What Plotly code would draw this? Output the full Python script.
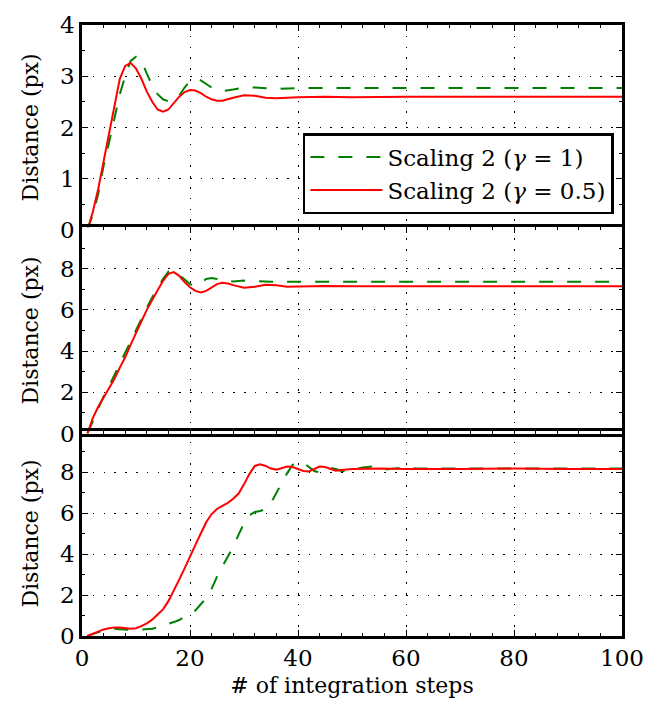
import plotly.graph_objects as go
from plotly.subplots import make_subplots

# ---------------- data ----------------
# Panel 1
p1_red_x = [1, 2, 3, 4, 5, 6, 7, 8, 9, 10, 11, 12, 13, 14, 15, 16, 17, 18, 19, 20, 21, 22, 23, 24, 25, 26, 28, 30, 32, 34, 36, 38, 40, 45, 50, 60, 70, 80, 90, 100]
p1_red_y = [0, 0.35, 0.8, 1.35, 1.85, 2.45, 2.95, 3.2, 3.26, 3.15, 2.95, 2.7, 2.5, 2.35, 2.31, 2.35, 2.47, 2.6, 2.69, 2.73, 2.72, 2.67, 2.6, 2.55, 2.52, 2.52, 2.58, 2.63, 2.62, 2.58, 2.57, 2.58, 2.59, 2.6, 2.59, 2.6, 2.6, 2.6, 2.6, 2.6]
p1_grn_x = [1, 2, 3, 4, 5, 6, 7, 8, 9, 10, 11, 12, 13, 14, 15, 16, 17, 18, 19, 20, 21, 22, 23, 24, 25, 26, 28, 30, 32, 34, 36, 40, 50, 60, 70, 80, 90, 100]
p1_grn_y = [0, 0.3, 0.7, 1.25, 1.7, 2.2, 2.65, 3.0, 3.3, 3.38, 3.3, 3.05, 2.82, 2.65, 2.55, 2.51, 2.52, 2.62, 2.78, 2.9, 2.95, 2.92, 2.85, 2.78, 2.73, 2.71, 2.74, 2.78, 2.78, 2.76, 2.75, 2.77, 2.77, 2.77, 2.77, 2.77, 2.77, 2.77]

# Panel 2
p2_red_x = [1, 2, 3, 4, 5, 6, 7, 8, 9, 10, 11, 12, 13, 14, 15, 16, 17, 18, 19, 20, 21, 22, 23, 24, 25, 26, 27, 28, 30, 32, 34, 36, 38, 40, 45, 50, 60, 70, 80, 90, 100]
p2_red_y = [0, 0.75, 1.3, 1.75, 2.15, 2.65, 3.2, 3.7, 4.3, 4.9, 5.45, 6.0, 6.5, 6.95, 7.4, 7.75, 7.83, 7.65, 7.35, 7.1, 6.92, 6.85, 6.92, 7.1, 7.25, 7.31, 7.28, 7.2, 7.07, 7.12, 7.22, 7.2, 7.12, 7.13, 7.16, 7.15, 7.15, 7.15, 7.15, 7.15, 7.15]
p2_grn_x = [1, 2, 3, 4, 5, 6, 7, 8, 9, 10, 11, 12, 13, 14, 15, 16, 17, 18, 19, 20, 21, 22, 23, 24, 25, 26, 28, 30, 32, 35, 40, 50, 60, 70, 80, 90, 100]
p2_grn_y = [0, 0.6, 1.25, 1.8, 2.3, 2.85, 3.4, 3.95, 4.5, 5.05, 5.6, 6.1, 6.6, 7.05, 7.5, 7.85, 7.9, 7.7, 7.45, 7.25, 7.15, 7.3, 7.5, 7.55, 7.5, 7.42, 7.38, 7.42, 7.4, 7.36, 7.36, 7.37, 7.37, 7.37, 7.37, 7.37, 7.37]

# Panel 3
p3_red_x = [1, 2, 3, 4, 5, 6, 7, 8, 9, 10, 11, 12, 13, 14, 15, 16, 17, 18, 19, 20, 21, 22, 23, 24, 25, 26, 27, 28, 29, 30, 31, 32, 33, 34, 35, 36, 37, 38, 39, 40, 41, 42, 43, 44, 45, 46, 47, 48, 50, 55, 60, 70, 80, 90, 100]
p3_red_y = [0, 0.12, 0.22, 0.32, 0.38, 0.42, 0.41, 0.37, 0.35, 0.38, 0.48, 0.62, 0.8, 1.05, 1.3, 1.7, 2.2, 2.75, 3.3, 3.9, 4.45, 5.0, 5.55, 5.95, 6.2, 6.35, 6.5, 6.7, 6.95, 7.4, 7.9, 8.3, 8.38, 8.3, 8.17, 8.12, 8.2, 8.27, 8.25, 8.15, 8.05, 8.03, 8.15, 8.27, 8.25, 8.15, 8.07, 8.1, 8.15, 8.17, 8.15, 8.15, 8.17, 8.15, 8.15]
p3_grn_x = [1, 2, 3, 4, 5, 6, 7, 8, 9, 10, 11, 12, 13, 14, 15, 16, 17, 18, 19, 20, 21, 22, 23, 24, 25, 26, 27, 28, 29, 30, 31, 32, 33, 34, 35, 36, 37, 38, 39, 40, 41, 42, 43, 44, 45, 46, 47, 48, 49, 50, 52, 54, 56, 58, 60, 62, 70, 80, 90, 100]
p3_grn_y = [0, 0.1, 0.2, 0.28, 0.33, 0.35, 0.33, 0.3, 0.29, 0.29, 0.3, 0.31, 0.35, 0.42, 0.5, 0.6, 0.68, 0.78, 0.95, 1.1, 1.25, 1.55, 1.85, 2.3, 2.9, 3.4, 3.85, 4.35, 4.95, 5.5, 5.9, 6.05, 6.1, 6.2, 6.5, 7.0, 7.5, 7.95, 8.35, 8.5, 8.45, 8.25, 8.05, 7.98, 8.05, 8.2, 8.15, 8.05, 8.03, 8.12, 8.22, 8.28, 8.12, 8.18, 8.22, 8.17, 8.17, 8.18, 8.17, 8.17]

series_names = ["Scaling 2 (<i>γ</i> = 1)", "Scaling 2 (<i>γ</i> = 0.5)"]
x_ticks = [0, 20, 40, 60, 80, 100]
y_title = "Distance (px)"
x_title = "# of integration steps"

# ---------------- figure ----------------
FONT = "DejaVu Serif, serif"
FS = 23
GREEN = "#008000"
RED = "#ff0000"

fig = make_subplots(rows=3, cols=1, shared_xaxes=True, vertical_spacing=0)

panels = [(p1_grn_x, p1_grn_y, p1_red_x, p1_red_y),
          (p2_grn_x, p2_grn_y, p2_red_x, p2_red_y),
          (p3_grn_x, p3_grn_y, p3_red_x, p3_red_y)]

for i, (gx, gy, rx, ry) in enumerate(panels, start=1):
    fig.add_trace(go.Scatter(x=gx, y=gy, mode="lines", name=series_names[0],
                             line=dict(color=GREEN, width=2, dash="14px,14px"),
                             showlegend=(i == 1)), row=i, col=1)
    fig.add_trace(go.Scatter(x=rx, y=ry, mode="lines", name=series_names[1],
                             line=dict(color=RED, width=2),
                             showlegend=(i == 1)), row=i, col=1)

LW = 2.5
axis_common = dict(showline=True, linewidth=LW, linecolor="black", mirror="allticks",
                   ticks="inside", ticklen=6, tickwidth=1.2, tickcolor="black",
                   showgrid=True, gridcolor="black", gridwidth=1.2, griddash="1.5px,9.3px",
                   zeroline=False, tickfont=dict(family=FONT, size=FS, color="black"))

for i in range(1, 4):
    fig.update_xaxes(range=[0, 100], tickmode="array", tickvals=x_ticks,
                     minor=dict(tickmode="linear", tick0=0, dtick=4, ticks="inside",
                                ticklen=3, tickcolor="black", showgrid=False),
                     showticklabels=(i == 3), row=i, col=1, **axis_common)

fig.update_xaxes(title=dict(text=x_title, font=dict(family=FONT, size=FS - 1, color="black"), standoff=8),
                 row=3, col=1)

fig.update_yaxes(range=[0, 4], tickmode="array", tickvals=[0, 1, 2, 3, 4],
                 minor=dict(tickmode="linear", tick0=0, dtick=0.5, ticks="inside",
                            ticklen=3, tickcolor="black", showgrid=False),
                 row=1, col=1, **axis_common)
for i in (2, 3):
    fig.update_yaxes(range=[0, 10], tickmode="array", tickvals=[0, 2, 4, 6, 8],
                     minor=dict(tickmode="linear", tick0=0, dtick=1, ticks="inside",
                                ticklen=3, tickcolor="black", showgrid=False),
                     row=i, col=1, **axis_common)
for i in (1, 2, 3):
    fig.update_yaxes(title=dict(text=y_title, font=dict(family=FONT, size=FS - 1, color="black"), standoff=16),
                     row=i, col=1)

# overlap the panels slightly so adjacent frame lines coincide
ph = 708 - 25 - 72
ov = LW / ph
fig.update_layout(
    yaxis=dict(domain=[2/3 - ov/2, 1]),
    yaxis2=dict(domain=[1/3 - ov/2, 2/3 + ov/2]),
    yaxis3=dict(domain=[0, 1/3 + ov/2]),
)

fig.update_layout(
    width=656, height=708,
    margin=dict(l=82, r=30, t=25, b=72),
    paper_bgcolor="white", plot_bgcolor="white",
    font=dict(family=FONT, size=FS, color="black"),
    legend=dict(x=0.985, y=0.823, xanchor="right", yanchor="top",
                bgcolor="white", bordercolor="black", borderwidth=2.5,
                font=dict(family=FONT, size=FS, color="black"),
                tracegroupgap=8, itemwidth=72),
)

fig.write_html("out.html")
